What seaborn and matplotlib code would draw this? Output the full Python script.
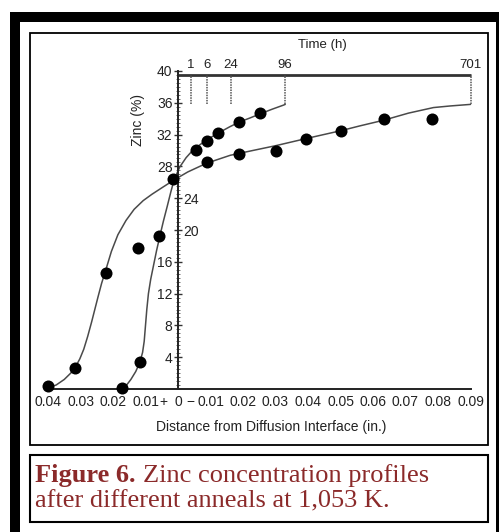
import numpy as np
import pandas as pd
import matplotlib
matplotlib.use("Agg")
import matplotlib.pyplot as plt
from matplotlib.patches import Rectangle
import seaborn as sns

# Pontos medidos (distancia em polegadas, zinco em %)
pts96_x = [-0.0173, -0.0117, -0.0059, -0.0014, 0.0055, 0.0088, 0.0124, 0.0189, 0.0252]
pts96_y = [0.1, 3.4, 19.2, 26.4, 30.1, 31.2, 32.2, 33.6, 34.7]
pts701_x = [-0.0401, -0.0317, -0.0222, -0.0122, 0.0088, 0.0189, 0.0300, 0.0394, 0.0502, 0.0634, 0.0780]
pts701_y = [0.4, 2.6, 14.6, 17.7, 28.5, 29.6, 29.9, 31.4, 32.4, 33.9, 33.9]

# Curvas
c96_x = [-0.0172, -0.0160, -0.0145, -0.0130, -0.0117, -0.0109, -0.0104, -0.0100, -0.0096, -0.0091,
         -0.0084, -0.0076, -0.0066, -0.0056, -0.0045, -0.0033, -0.0022, -0.0012, 0.0005, 0.0025,
         0.0047, 0.0070, 0.0095, 0.0124, 0.0160, 0.0190, 0.0222, 0.0252, 0.0290, 0.0324, 0.0330]
c96_y = [0.0, 0.4, 1.2, 2.2, 3.4, 4.6, 6.0, 8.0, 10.0, 12.0,
         13.8, 15.4, 17.4, 19.2, 21.1, 23.0, 24.8, 26.3, 27.9, 29.1,
         30.1, 30.8, 31.5, 32.2, 33.0, 33.6, 34.1, 34.6, 35.2, 35.7, 35.8]
c701_x = [-0.0398, -0.0375, -0.0350, -0.0330, -0.0315, -0.0302, -0.0290, -0.0278, -0.0266, -0.0256,
          -0.0246, -0.0235, -0.0222, -0.0205, -0.0185, -0.0160, -0.0135, -0.0107, -0.0080, -0.0050,
          -0.0012, 0.0030, 0.0088, 0.0161, 0.0230, 0.0300, 0.0394, 0.0502, 0.0560, 0.0632,
          0.0709, 0.0786, 0.0837, 0.0900]
c701_y = [0.2, 0.5, 1.2, 2.0, 2.8, 3.8, 5.0, 6.6, 8.4, 10.0,
          11.6, 13.3, 15.0, 17.3, 19.4, 21.2, 22.6, 23.7, 24.5, 25.3,
          26.3, 27.3, 28.4, 29.4, 30.0, 30.6, 31.5, 32.5, 33.1, 33.8,
          34.7, 35.4, 35.6, 35.8]

# Eixo de tempo no topo
horas = ["1", "6", "24", "96", "701"]
horas_x = [0.0040, 0.0088, 0.0163, 0.0330, 0.0900]
horas_base = 35.8
horas_topo = 39.5

# Ticks
x_ticks = [-0.04, -0.03, -0.02, -0.01, 0.0, 0.01, 0.02, 0.03, 0.04, 0.05, 0.06, 0.07, 0.08, 0.09]
x_labels = ["0.04", "0.03", "0.02", "0.01", "0", "0.01", "0.02", "0.03", "0.04", "0.05", "0.06", "0.07", "0.08", "0.09"]
y_ticks = [4, 8, 12, 16, 20, 24, 28, 32, 36, 40]
y_lados = ["L", "L", "L", "L", "R", "R", "L", "L", "L", "L"]

sns.set_style("white")
plt.rcParams['font.family'] = ['Liberation Sans', 'DejaVu Sans']
cor_txt = "#222222"

W, H = 499, 532
fig = plt.figure(figsize=(W / 100, H / 100), dpi=100)

# Moldura preta e caixas
fig.patches.append(Rectangle((10 / W, 0), 1, 1 - 12 / H, transform=fig.transFigure,
                             facecolor="black", edgecolor="none", zorder=-10))
fig.patches.append(Rectangle((20 / W, 0), 476 / W, 1 - 22 / H, transform=fig.transFigure,
                             facecolor="white", edgecolor="none", zorder=-9))
fig.patches.append(Rectangle((30 / W, 1 - 445 / H), 458 / W, 412 / H, transform=fig.transFigure,
                             fill=False, edgecolor="black", linewidth=1.3, zorder=5))
fig.patches.append(Rectangle((30 / W, 1 - 522 / H), 458 / W, 67 / H, transform=fig.transFigure,
                             fill=False, edgecolor="black", linewidth=1.5, zorder=5))

ax = fig.add_axes([31.75 / W, 1 - 404.9 / H, 455 / W, 357.75 / H])
ax.patch.set_visible(False)

sns.lineplot(x=c96_x, y=c96_y, sort=False, estimator=None, color="#4a4a4a", linewidth=1.1, ax=ax)
sns.lineplot(x=c701_x, y=c701_y, sort=False, estimator=None, color="#4a4a4a", linewidth=1.1, ax=ax)
sns.scatterplot(x=pts96_x + pts701_x, y=pts96_y + pts701_y, s=75, color="black",
                edgecolor="black", linewidth=0, zorder=4, ax=ax)

# linhas do tempo
ax.hlines(horas_topo, 0, horas_x[-1], color="#333333", linewidth=2.0)
ax.vlines(horas_x, horas_base, horas_topo, color="#555555", linewidth=1.1, linestyles=(0, (1, 0.7)))
for hx, h in zip(horas_x, horas):
    ax.text(hx, horas_topo + 0.5, h, ha="center", va="bottom", fontsize=9.5, color=cor_txt)
ax.text(0.0443, 43.3, "Time (h)", ha="center", va="center", fontsize=9.5, color=cor_txt)

ax.set_xlim(-0.045, 0.095)
ax.set_ylim(-2, 43)

# eixos cruzando no zero
ax.spines["left"].set_position(("data", 0))
ax.spines["left"].set_bounds(0, 40)
ax.spines["left"].set_linewidth(1.4)
ax.spines["right"].set_position(("data", 0))
ax.spines["right"].set_visible(False)
ax.spines["bottom"].set_position(("data", 0))
ax.spines["bottom"].set_bounds(-0.041, 0.09)
ax.spines["bottom"].set_linewidth(1.4)
ax.spines["top"].set_visible(False)
for s in ["left", "bottom"]:
    ax.spines[s].set_color("#222222")

ax.set_xticks(x_ticks, x_labels)
ax.set_yticks(y_ticks, [str(v) for v in y_ticks])
ax.set_yticks(np.arange(0, 40.01, 0.5), minor=True)
ax.tick_params(axis="x", which="major", direction="in", length=5, width=1, pad=4.5,
               labelsize=10, labelcolor=cor_txt, color="#333333")
ax.tick_params(axis="y", which="major", direction="inout", length=6, width=1, pad=1,
               left=True, right=False, labelleft=True, labelright=True,
               labelsize=10, labelcolor=cor_txt, color="#333333")
ax.tick_params(axis="y", which="minor", direction="inout", length=2.5, width=0.6,
               left=True, right=False, color="#555555")
for t, lado in zip(ax.yaxis.get_major_ticks(), y_lados):
    t.label1.set_visible(lado == "L")
    t.label2.set_visible(lado == "R")

ax.text(-0.0044, -1.65, "+", ha="center", va="center", fontsize=10, color=cor_txt)
ax.text(0.0038, -1.65, "\u2212", ha="center", va="center", fontsize=10, color=cor_txt)
ax.text(0.0286, -4.8, "Distance from Diffusion Interface (in.)", ha="center", va="center",
        fontsize=10, color=cor_txt)
ax.text(-0.0122, 33.8, "Zinc (%)", ha="center", va="center", rotation=90, fontsize=10, color=cor_txt)
ax.set_xlabel("")
ax.set_ylabel("")

# legenda da figura
serif = ["Liberation Serif", "DejaVu Serif"]
vermelho = "#8b2a2a"
fig.text(35 / W, 1 - 482 / H, "Figure 6.", family=serif, fontsize=19, fontweight="bold",
         color=vermelho, va="baseline", ha="left")
fig.text(143 / W, 1 - 482 / H, "Zinc concentration profiles", family=serif, fontsize=19,
         color=vermelho, va="baseline", ha="left")
fig.text(35 / W, 1 - 507 / H, "after different anneals at 1,053 K.", family=serif, fontsize=19,
         color=vermelho, va="baseline", ha="left")

plt.savefig("out.png", dpi=100)
